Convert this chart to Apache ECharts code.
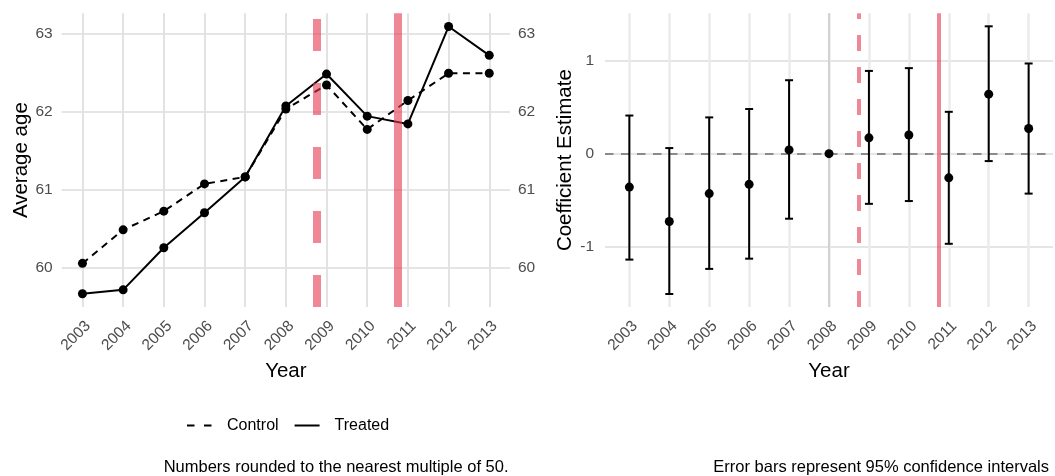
<!DOCTYPE html>
<html>
<head>
<meta charset="utf-8">
<title>Average age and event-study coefficients</title>
<script src="https://cdn.jsdelivr.net/npm/echarts@6/dist/echarts.min.js"></script>
<style>
  html, body { margin: 0; padding: 0; background: #ffffff; }
  #chart { width: 1055px; height: 476px; }
</style>
</head>
<body>
<div id="chart"></div>
<script>
// ---- data ----
const years = [2003, 2004, 2005, 2006, 2007, 2008, 2009, 2010, 2011, 2012, 2013];
const controlAge = [60.05, 60.48, 60.72, 61.07, 61.16, 62.03, 62.34, 61.77, 62.14, 62.49, 62.49];
const treatedAge = [59.66, 59.71, 60.25, 60.70, 61.16, 62.07, 62.48, 61.94, 61.84, 63.09, 62.72];
const ageTicks = [60, 61, 62, 63];

const coefEstimate = [-0.36, -0.73, -0.43, -0.33, 0.04, 0.00, 0.17, 0.20, -0.26, 0.64, 0.27];
const ciLower = [-1.14, -1.51, -1.24, -1.13, -0.70, null, -0.54, -0.51, -0.97, -0.08, -0.43];
const ciUpper = [0.41, 0.06, 0.39, 0.48, 0.79, null, 0.89, 0.92, 0.45, 1.37, 0.97];
const coefTicks = [-1, 0, 1];

const policyDashed = 2008.75;   // announcement
const policySolid = 2010.75;    // implementation
const referenceYear = 2008;

// ---- styling ----
const FONT = "'Liberation Sans', Arial, sans-serif";
const TICK_GREY = '#4d4d4d';
const RED = 'rgba(230, 55, 80, 0.6)';
const CAP_HALF = 0.1;

const chart = echarts.init(document.getElementById('chart'), null, { renderer: 'canvas' });

const yearLabel = {
  customValues: years,
  rotate: 45,
  verticalAlign: 'top',
  margin: 11,
  fontSize: 15.5,
  fontFamily: FONT,
  color: TICK_GREY,
  formatter: v => String(v)
};

const axisTitle = { fontSize: 20.5, fontFamily: FONT, color: '#000000' };

const option = {
  animation: false,
  backgroundColor: '#ffffff',
  textStyle: { fontFamily: FONT },
  grid: [
    { left: 61.7, top: 13.3, width: 448.3, height: 293.7 },
    { left: 605, top: 13.3, width: 448, height: 293.7 }
  ],
  xAxis: [
    {
      gridIndex: 0, type: 'value', min: 2002.49, max: 2013.51,
      axisLine: { show: false },
      axisTick: { show: false, customValues: years },
      axisLabel: yearLabel,
      splitLine: { show: true, lineStyle: { color: '#e2e2e2', width: 2 } },
      name: 'Year', nameLocation: 'middle', nameGap: 46, nameTextStyle: axisTitle
    },
    {
      gridIndex: 1, type: 'value', min: 2002.39, max: 2013.61,
      axisLine: { show: false },
      axisTick: { show: false, customValues: years },
      axisLabel: yearLabel,
      splitLine: { show: true, lineStyle: { color: '#ebebeb', width: 2.5 } },
      name: 'Year', nameLocation: 'middle', nameGap: 46, nameTextStyle: axisTitle
    }
  ],
  yAxis: [
    {
      gridIndex: 0, type: 'value', min: 59.49, max: 63.26,
      axisLine: { show: false },
      axisTick: { show: false, customValues: ageTicks },
      axisLabel: { customValues: ageTicks, margin: 9, fontSize: 15.5, color: TICK_GREY, fontFamily: FONT },
      splitLine: { show: true, lineStyle: { color: '#e5e5e5', width: 2 } },
      name: 'Average age', nameLocation: 'middle', nameGap: 30, nameTextStyle: axisTitle
    },
    {
      gridIndex: 0, type: 'value', position: 'right', min: 59.49, max: 63.26,
      axisLine: { show: false },
      axisTick: { show: false, customValues: ageTicks },
      axisLabel: { customValues: ageTicks, margin: 8, fontSize: 15.5, color: TICK_GREY, fontFamily: FONT },
      splitLine: { show: false }
    },
    {
      gridIndex: 1, type: 'value', min: -1.65, max: 1.51,
      axisLine: { show: false },
      axisTick: { show: false, customValues: coefTicks },
      axisLabel: { customValues: coefTicks, margin: 11, fontSize: 15.5, color: TICK_GREY, fontFamily: FONT },
      splitLine: { show: true, lineStyle: { color: '#e5e5e5', width: 2 } },
      name: 'Coefficient Estimate', nameLocation: 'middle', nameGap: 29, nameTextStyle: axisTitle
    }
  ],
  legend: {
    left: 186, top: 417.5, padding: 0,
    itemGap: 15, itemWidth: 25, itemHeight: 16,
    itemStyle: { opacity: 0 },
    textStyle: { fontSize: 16, color: '#000000', fontFamily: FONT, padding: [0, 0, 0, 10] },
    data: [
      { name: 'Control', lineStyle: { type: [7.5, 9.5], width: 2 } },
      { name: 'Treated', lineStyle: { width: 2 } }
    ]
  },
  title: [
    {
      text: 'Numbers rounded to the nearest multiple of 50.',
      right: 1055 - 508.5, top: 459, padding: 0,
      textStyle: { fontSize: 16.5, fontWeight: 'normal', color: '#000000', fontFamily: FONT }
    },
    {
      text: 'Error bars represent 95% confidence intervals',
      right: 1055 - 1049, top: 459, padding: 0,
      textStyle: { fontSize: 16.5, fontWeight: 'normal', color: '#000000', fontFamily: FONT }
    }
  ],
  series: [
    {
      name: 'Control', type: 'line', xAxisIndex: 0, yAxisIndex: 0, z: 3,
      data: years.map((y, i) => [y, controlAge[i]]),
      symbol: 'circle', symbolSize: 9,
      itemStyle: { color: '#000000' },
      lineStyle: { color: '#000000', width: 2, type: [7, 5.5] }
    },
    {
      name: 'Treated', type: 'line', xAxisIndex: 0, yAxisIndex: 0, z: 3,
      data: years.map((y, i) => [y, treatedAge[i]]),
      symbol: 'circle', symbolSize: 9,
      itemStyle: { color: '#000000' },
      lineStyle: { color: '#000000', width: 2, type: 'solid' }
    },
    {
      name: 'policy-left', type: 'line', xAxisIndex: 0, yAxisIndex: 0, z: 5,
      data: [],
      markLine: {
        z: 5,
        silent: true, symbol: 'none', label: { show: false }, animation: false,
        lineStyle: { color: RED, width: 8 },
        data: [
          { xAxis: policyDashed, lineStyle: { type: [32, 32], color: RED, width: 8 } },
          { xAxis: policySolid, lineStyle: { type: 'solid', color: RED, width: 8 } }
        ]
      }
    },
    {
      name: 'guides-right', type: 'line', xAxisIndex: 1, yAxisIndex: 2, z: 1,
      data: [],
      markLine: {
        z: 1,
        silent: true, symbol: 'none', label: { show: false }, animation: false,
        data: [
          { xAxis: referenceYear, lineStyle: { type: 'solid', color: '#d2d2d2', width: 2 } },
          { yAxis: 0, lineStyle: { type: [8.5, 7.5], color: '#8a8a8a', width: 1.8 } },
          { xAxis: policyDashed, lineStyle: { type: [16, 16], color: RED, width: 4 } },
          { xAxis: policySolid, lineStyle: { type: 'solid', color: RED, width: 4 } }
        ]
      }
    },
    {
      name: 'ci', type: 'custom', xAxisIndex: 1, yAxisIndex: 2, z: 3,
      data: years.map((y, i) => [y, ciLower[i], ciUpper[i]]).filter(d => d[1] !== null),
      encode: { x: 0, y: [1, 2] },
      renderItem: (params, api) => {
        const x = api.value(0);
        const lo = api.value(1);
        const hi = api.value(2);
        const top = api.coord([x, hi]);
        const bot = api.coord([x, lo]);
        const xl = api.coord([x - CAP_HALF, hi])[0];
        const xr = api.coord([x + CAP_HALF, hi])[0];
        const st = { stroke: '#000000', lineWidth: 2 };
        return {
          type: 'group',
          children: [
            { type: 'line', shape: { x1: top[0], y1: top[1], x2: bot[0], y2: bot[1] }, style: st },
            { type: 'line', shape: { x1: xl, y1: top[1], x2: xr, y2: top[1] }, style: st },
            { type: 'line', shape: { x1: xl, y1: bot[1], x2: xr, y2: bot[1] }, style: st }
          ]
        };
      }
    },
    {
      name: 'estimate', type: 'scatter', xAxisIndex: 1, yAxisIndex: 2, z: 6,
      data: years.map((y, i) => [y, coefEstimate[i]]),
      symbol: 'circle', symbolSize: 9,
      itemStyle: { color: '#000000', opacity: 1 }
    }
  ]
};

chart.setOption(option);
</script>
</body>
</html>
